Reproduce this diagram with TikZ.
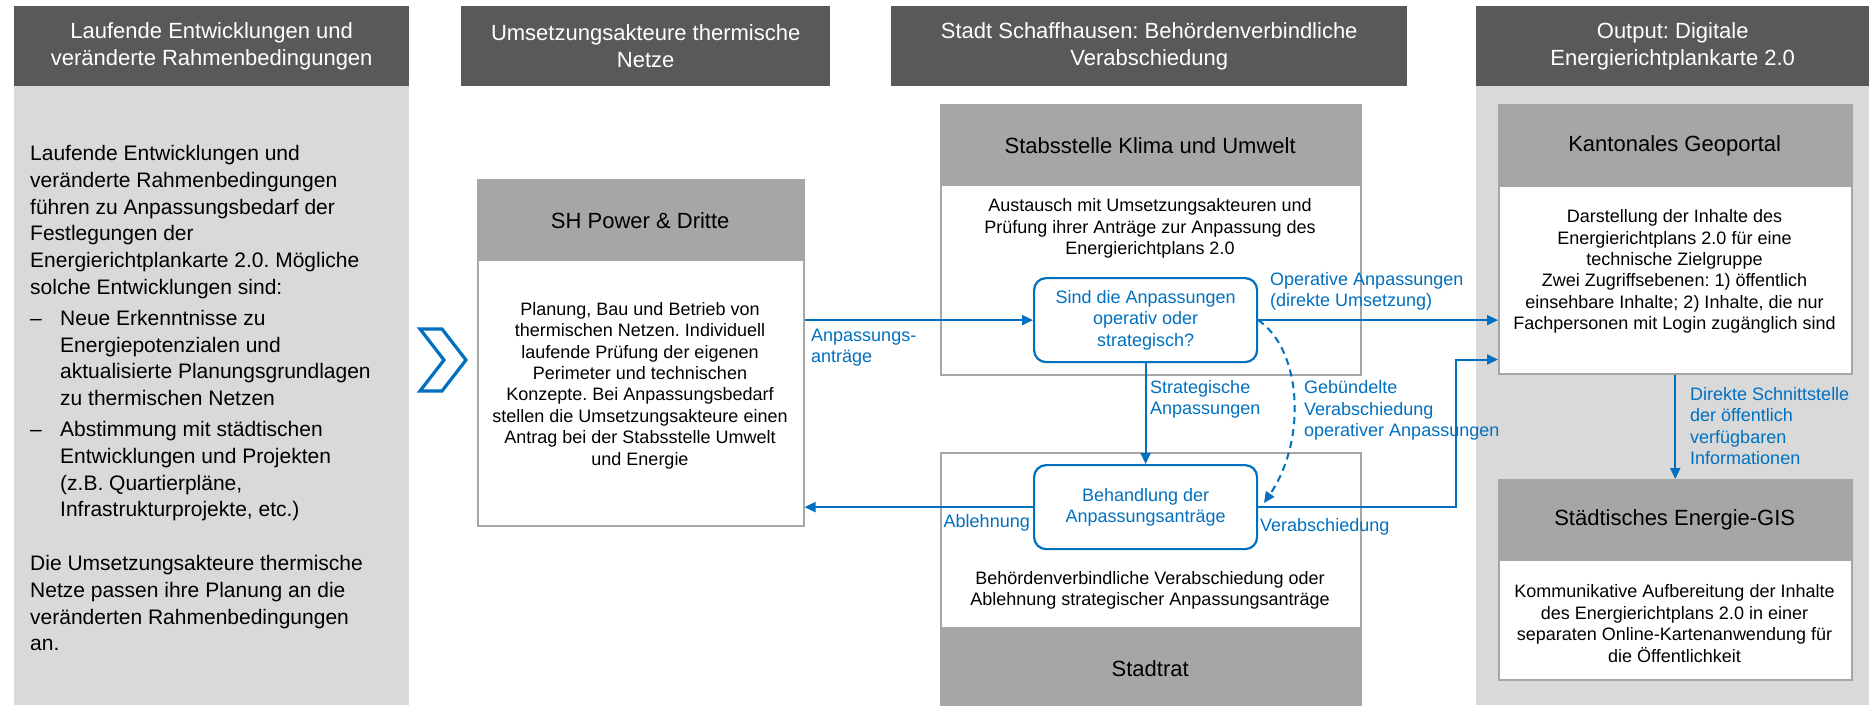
\documentclass[tikz,border=0pt]{standalone}
\usepackage{fontspec}
\setmainfont{Liberation Sans}
\usetikzlibrary{arrows.meta,calc}
\definecolor{hdrgray}{HTML}{595959}
\definecolor{panelgray}{HTML}{D9D9D9}
\definecolor{boxgray}{HTML}{A6A6A6}
\definecolor{myblue}{HTML}{0070C0}
\newcommand\lidash{\makebox[30pt][l]{–}}
\newcommand\liind{\hspace*{30pt}}
\frenchspacing
\begin{document}
\frenchspacing
\begin{tikzpicture}[x=1pt,y=-1pt,
  hdr/.style={fill=hdrgray, text=white, font=\fontsize{22}{27}\selectfont, align=center,
    anchor=north west, inner sep=0pt, minimum height=80pt},
  boxbody/.style={draw=boxgray, line width=1.5pt, fill=white, anchor=north west, inner sep=0pt},
  boxhead/.style={fill=boxgray, anchor=north west, inner sep=0pt, font=\fontsize{22}{26}\selectfont},
  body/.style={font=\fontsize{18}{21.4}\selectfont, align=center, inner sep=0pt},
  coltext/.style={font=\fontsize{21}{26.8}\selectfont, align=left, inner sep=0pt, anchor=north west},
  bluebox/.style={draw=myblue, line width=2.2pt, rounded corners=12pt, fill=white, text=myblue,
    font=\fontsize{18}{21.4}\selectfont, align=center, anchor=north west, inner sep=0pt},
  lbl/.style={text=myblue, font=\fontsize{18}{21.4}\selectfont, align=left, inner sep=0pt},
  arr/.style={draw=myblue, line width=2pt, -{Triangle[length=11pt,width=10pt]}}
]
\useasboundingbox (0,0) rectangle (1874,705);
\fill[white] (0,0) rectangle (1874,705);

% column panels
\fill[panelgray] (14,86) rectangle (409,705);
\fill[panelgray] (1476,86) rectangle (1869,705);

% headers
\node[hdr, minimum width=395pt] (h1) at (14,6) {Laufende Entwicklungen und\\veränderte Rahmenbedingungen};
\node[hdr, minimum width=369pt] (h2) at (461,6) {Umsetzungsakteure thermische\\Netze};
\node[hdr, minimum width=516pt] (h3) at (891,6) {Stadt Schaffhausen: Behördenverbindliche\\Verabschiedung};
\node[hdr, minimum width=393pt] (h4) at (1476,6) {Output: Digitale\\Energierichtplankarte 2.0};

% column 1 text
\node[coltext] (c1) at (30,145) {Laufende Entwicklungen und\\
veränderte Rahmenbedingungen\\
führen zu Anpassungsbedarf der\\
Festlegungen der\\
Energierichtplankarte 2.0. Mögliche\\
solche Entwicklungen sind:\\[4pt]
\lidash Neue Erkenntnisse zu\\
\liind Energiepotenzialen und\\
\liind aktualisierte Planungsgrundlagen\\
\liind zu thermischen Netzen\\[4pt]
\lidash Abstimmung mit städtischen\\
\liind Entwicklungen und Projekten\\
\liind (z.B. Quartierpläne,\\
\liind Infrastrukturprojekte, etc.)\\[26.8pt]
Die Umsetzungsakteure thermische\\
Netze passen ihre Planung an die\\
veränderten Rahmenbedingungen\\
an.};

% chevron
\draw[myblue, line width=3.2pt, line join=miter, fill=white]
  (420,329) -- (442,329) -- (466,360) -- (442,391) -- (420,391) -- (444,360) -- cycle;

% SH Power
\node[boxbody, minimum width=326pt, minimum height=346pt] (sh) at (477,179) {};
\node[boxhead, minimum width=326pt, minimum height=82pt] (shh) at (477,179) {SH Power \& Dritte};
\node[body] (shb) at (640,385.5) {Planung, Bau und Betrieb von\\thermischen Netzen. Individuell\\laufende Prüfung der eigenen\\Perimeter und technischen\\Konzepte. Bei Anpassungsbedarf\\stellen die Umsetzungsakteure einen\\Antrag bei der Stabsstelle Umwelt\\und Energie};

% Stabsstelle
\node[boxbody, minimum width=420pt, minimum height=270pt] (stb) at (940,104) {};
\node[boxhead, minimum width=420pt, minimum height=82pt] (stbh) at (940,104) {Stabsstelle Klima und Umwelt};
\node[body] (stbb) at (1150,228.5) {Austausch mit Umsetzungsakteuren und\\Prüfung ihrer Anträge zur Anpassung des\\Energierichtplans 2.0};

% Stadtrat
\node[boxbody, minimum width=420pt, minimum height=257pt] (str) at (940,452) {};
\node[boxhead, minimum width=420pt, minimum height=82pt] (strh) at (940,627) {Stadtrat};
\node[body] (strb) at (1150,590.5) {Behördenverbindliche Verabschiedung oder\\Ablehnung strategischer Anpassungsanträge};

% blue decision boxes
\node[bluebox, minimum width=223pt, minimum height=84pt] (sind) at (1033,277) {Sind die Anpassungen\\operativ oder\\strategisch?};
\node[bluebox, minimum width=223pt, minimum height=84pt] (beh) at (1033,464) {Behandlung der\\Anpassungsanträge};

% Kantonales Geoportal
\node[boxbody, minimum width=353pt, minimum height=269pt] (kan) at (1498,104) {};
\node[boxhead, minimum width=353pt, minimum height=83pt] (kanh) at (1498,104) {Kantonales Geoportal};
\node[body] (kanb) at (1674.5,271.5) {Darstellung der Inhalte des\\Energierichtplans 2.0 für eine\\technische Zielgruppe\\Zwei Zugriffsebenen: 1) öffentlich\\einsehbare Inhalte; 2) Inhalte, die nur\\Fachpersonen mit Login zugänglich sind};

% Staedtisches Energie-GIS
\node[boxbody, minimum width=353pt, minimum height=200pt] (sta) at (1498,479) {};
\node[boxhead, minimum width=353pt, minimum height=82pt] (stah) at (1498,479) {Städtisches Energie-GIS};
\node[body] (stab) at (1674.5,623.5) {Kommunikative Aufbereitung der Inhalte\\des Energierichtplans 2.0 in einer\\separaten Online-Kartenanwendung für\\die Öffentlichkeit};

% helper coordinates
\coordinate (kin) at ($(kan.south west)+(0,-15)$);
\coordinate (vturn) at (1456,0);
\coordinate (dend) at (1264,503);

% connectors
\draw[arr] (sh.east |- sind.west) -- (sind.west);
\draw[arr] (sind.east) -- (kan.west |- sind.east);
\draw[arr] (sind.south) -- (beh.north);
\draw[arr] (beh.west) -- (sh.east |- beh.west);
\draw[arr] (beh.east) -| (vturn |- kin) -- (kin);
\draw[arr] (kan.south) -- (sta.north);
\draw[arr, dash pattern=on 7pt off 5pt] (sind.east) .. controls (1302,350) and (1307,440) .. (dend);

% labels
\node[lbl, anchor=west] (l1) at (811,347.5) {Anpassungs-\\anträge};
\node[lbl, anchor=west] (l2) at (1270,291.5) {Operative Anpassungen\\(direkte Umsetzung)};
\node[lbl, anchor=west] (l3) at (1150,399.5) {Strategische\\Anpassungen};
\node[lbl, anchor=west] (l4) at (1304,410.5) {Gebündelte\\Verabschiedung\\operativer Anpassungen};
\node[lbl, anchor=east] (l5) at (1030,523) {Ablehnung};
\node[lbl, anchor=west] (l6) at (1260,527) {Verabschiedung};
\node[lbl, anchor=west] (l7) at (1690,426) {Direkte Schnittstelle\\der öffentlich\\verfügbaren\\Informationen};
\end{tikzpicture}
\end{document}
